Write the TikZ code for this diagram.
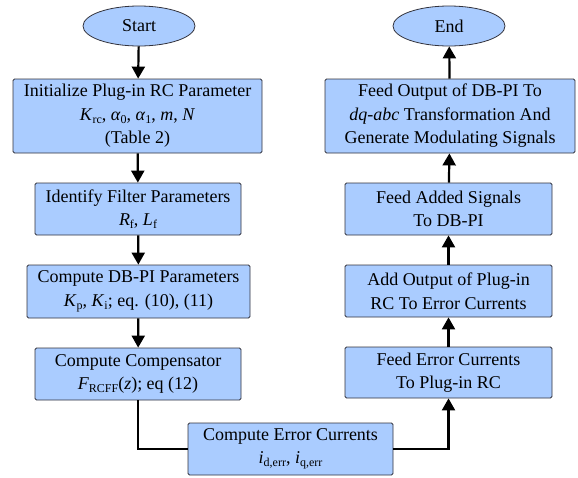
\documentclass[tikz,border=0pt]{standalone}
\usepackage{fontspec}
\setmainfont{Liberation Serif}
\usetikzlibrary{arrows.meta,shapes.geometric}

\definecolor{boxblue}{RGB}{170,204,255}
\definecolor{edgegray}{RGB}{50,50,60}

% italic symbol with a lowered upright subscript
\newcommand\sym[2]{\textit{#1}\raisebox{-0.35ex}{\fontsize{12}{12}\selectfont #2}}

\begin{document}
\begin{tikzpicture}[x=1pt,y=-1pt,
  box/.style={draw=edgegray, fill=boxblue, rounded corners=1.5pt, line width=0.8pt,
    align=center, inner sep=0pt, font=\fontsize{18}{23.5}\selectfont},
  term/.style={box, ellipse, minimum width=112pt, minimum height=40pt},
  flow/.style={line width=2.2pt, -{Triangle[length=12pt,width=13pt]}},
  link/.style={line width=2.2pt}]

\useasboundingbox (0,0) rectangle (578,477);

% left column
\node[term] (start) at (139,26) {Start};
\node[box, minimum width=249pt, minimum height=74pt] (init) at (137.5,116)
  {Initialize Plug-in RC Parameter\\
   \sym{K}{rc}, \sym{α}{0}, \sym{α}{1}, \textit{m}, \textit{N}\\
   (Table 2)};
\node[box, minimum width=206pt, minimum height=52pt] (filt) at (138,209)
  {Identify Filter Parameters\\ \sym{R}{f}, \sym{L}{f}};
\node[box, minimum width=223pt, minimum height=53pt] (dbpi) at (138.5,291.5)
  {Compute DB-PI Parameters\\ \sym{K}{p}, \sym{K}{i}; eq. (10), (11)};
\node[box, minimum width=206pt, minimum height=52pt] (comp) at (138,374)
  {Compute Compensator\\ \sym{F}{RCFF}(\textit{z}); eq (12)};

% bottom
\node[box, minimum width=205pt, minimum height=52pt] (err) at (290.5,449)
  {Compute Error Currents\\ \sym{i}{d,err}, \sym{i}{q,err}};

% right column
\node[box, minimum width=207pt, minimum height=51pt] (feedrc) at (448.5,372.5)
  {Feed Error Currents\\ To Plug-in RC};
\node[box, minimum width=207pt, minimum height=52pt] (add) at (448.5,291)
  {Add Output of Plug-in\\ RC To Error Currents};
\node[box, minimum width=207pt, minimum height=52pt] (feeddb) at (448.5,209)
  {Feed Added Signals\\ To DB-PI};
\node[box, minimum width=250pt, minimum height=74pt] (out) at (450,116)
  {Feed Output of DB-PI To\\
   \textit{dq}-\textit{abc} Transformation And\\
   Generate Modulating Signals};
\node[term] (end) at (449,26) {End};

% connectors
\draw[flow] (start) -- (init);
\draw[flow] (init) -- (filt);
\draw[flow] (filt) -- (dbpi);
\draw[flow] (dbpi) -- (comp);
\draw[link] (comp.south) |- (err.west);
\draw[flow] (err.east) -| (feedrc.south);
\draw[flow] (feedrc) -- (add);
\draw[flow] (add) -- (feeddb);
\draw[flow] (feeddb) -- (out);
\draw[flow] (out) -- (end);
\end{tikzpicture}
\end{document}
